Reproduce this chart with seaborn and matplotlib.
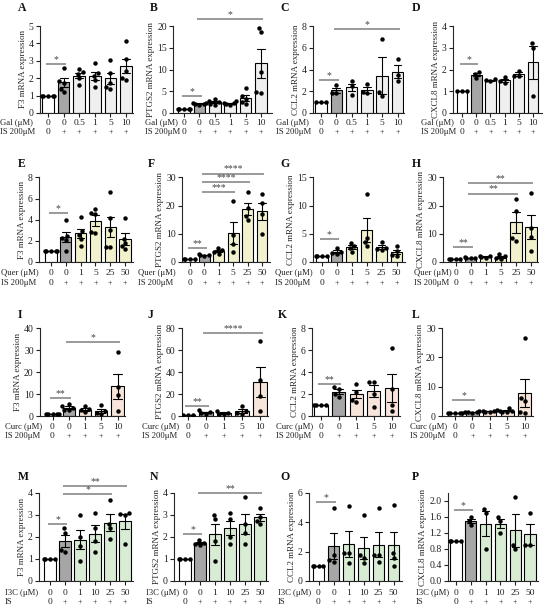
import numpy as np
import pandas as pd
import seaborn as sns
import matplotlib
matplotlib.use("Agg")
import matplotlib.pyplot as plt
from matplotlib.transforms import blended_transform_factory, ScaledTranslation

# ---------------- data ----------------
gal_doses = ["0", "0", "0.5", "1", "5", "10"]
quer_doses = ["0", "0", "1", "5", "25", "50"]
curc_doses = ["0", "0", "1", "5", "10"]
i3c_doses = ["0", "0", "1", "10", "25", "50"]

# Galangin
A_f3 = [[1, 1, 1, 1, 1], [2.6, 1.85, 1.75, 1.4, 1.2], [2.55, 2.35, 2.25, 2.0, 1.6],
        [2.9, 2.3, 2.15, 1.9, 1.5], [3.05, 2.3, 1.75, 1.5, 1.4], [4.15, 3.1, 2.4, 2.0, 1.9]]
B_ptgs2 = [[1, 1, 1, 1, 1], [2.4, 2.2, 2.1, 2.0, 1.9], [3.3, 2.8, 2.5, 2.1, 1.9],
           [2.7, 2.4, 2.2, 2.0, 1.8], [5.7, 3.8, 3.3, 2.5, 2.0], [19.5, 18.6, 9.5, 4.8, 4.6]]
C_ccl2 = [[1, 1, 1], [2.6, 1.85, 1.8], [2.9, 2.45, 1.7], [2.65, 1.95, 1.8],
          [6.8, 1.9, 1.6], [5.0, 3.5, 2.9]]
D_cxcl8 = [[1, 1, 1], [1.9, 1.8, 1.6], [1.55, 1.5, 1.48], [1.65, 1.45, 1.4],
           [1.95, 1.72, 1.7], [3.2, 3.0, 0.8]]
# Quercetin
E_f3 = [[1, 1, 1, 1, 1], [4.0, 2.5, 2.3, 2.1, 1.0], [4.3, 2.9, 2.6, 2.2, 1.5],
        [5.0, 4.6, 4.5, 2.8, 2.7], [6.6, 4.2, 3.0, 1.4, 1.4], [4.2, 2.2, 1.8, 1.5, 1.2]]
F_ptgs2 = [[1, 1, 1, 1], [2.8, 2.6, 2.4, 2.2], [5.0, 4.2, 3.6, 3.0],
           [21.5, 9.5, 6.5, 3.5], [25, 19, 16.5, 15], [24, 21, 17, 10]]
G_ccl2 = [[1, 1, 1, 1], [2.5, 1.8, 1.6, 1.4], [3.4, 2.8, 2.5, 1.8],
          [12, 4.2, 3.5, 2.8], [3.6, 2.5, 2.3, 2.2], [2.8, 1.9, 1.3, 1.1]]
H_cxcl8 = [[1, 1, 1, 1], [1.6, 1.5, 1.4, 1.3], [2.2, 2.0, 1.6, 1.4],
           [2.7, 2.0, 1.5, 1.2], [22.2, 18, 8.5, 7.5], [24.5, 12, 9, 4]]
# Curcumin
I_f3 = [[1, 1, 1, 1, 1], [5.6, 4.4, 3.8, 2.9, 2.6], [4.4, 3.0, 2.6, 1.8],
        [4.9, 2.2, 1.5, 1.0], [29, 13, 9.5, 2.5]]
J_ptgs2 = [[1, 1, 1, 1], [5.2, 3.5, 2.5, 2.0], [4.5, 3.0, 2.0, 1.5],
           [9.5, 4.5, 3.0, 2.0], [68, 33, 18, 5]]
K_ccl2 = [[1, 1, 1, 1], [2.6, 2.5, 2.0, 1.7], [2.9, 2.2, 1.5, 1.3],
          [3.1, 3.1, 2.0, 0.8], [6.2, 2.5, 1.0, 0.5]]
L_cxcl8 = [[1, 1, 1, 1, 1], [1.6, 1.4, 1.3, 1.2, 1.1], [2.2, 1.8, 1.6, 1.5, 1.4],
           [2.8, 1.8, 1.6, 1.5, 1.4], [26.5, 6, 5, 1.2, 1.0]]
# Indole-3-carbinol
M_f3 = [[1, 1, 1, 1], [2.4, 2.2, 1.4, 1.3], [3.0, 2.0, 1.6, 0.9],
        [3.1, 2.4, 1.8, 1.3], [3.7, 2.6, 2.4, 1.9], [3.1, 3.05, 3.0, 1.7]]
N_ptgs2 = [[1, 1, 1, 1], [1.85, 1.75, 1.7, 1.65], [3.0, 2.8, 1.8, 0.9],
           [3.1, 2.8, 2.0, 1.7], [3.8, 2.6, 2.2, 1.7], [3.3, 2.9, 2.75, 2.6]]
O_ccl2 = [[1, 1, 1, 1], [5.0, 1.8, 1.4, 1.3], [5.1, 1.9, 1.9, 1.2],
          [4.5, 1.8, 1.6, 1.2], [5.0, 1.8, 1.8, 1.3], [5.2, 1.9, 1.6, 1.0]]
P_cxcl8 = [[1, 1, 1, 1], [1.6, 1.5, 1.4], [1.8, 1.7, 0.8],
           [1.6, 1.5, 1.2], [2.1, 0.9, 0.8], [1.7, 0.9, 0.9]]

# significance: (group1, group2, y, label)
sig = {
    "A": [(0, 1, 2.8, "*")],
    "B": [(0, 1, 3.8, "*"), (1, 5, 21.5, "*")],
    "C": [(0, 1, 3.05, "*"), (1, 5, 7.75, "*")],
    "D": [(0, 1, 2.23, "*")],
    "E": [(0, 1, 4.6, "*")],
    "F": [(0, 1, 5.1, "**"), (1, 3, 24.75, "***"), (1, 4, 28.3, "****"), (1, 5, 31.4, "****")],
    "G": [(0, 1, 4.0, "*")],
    "H": [(0, 1, 5.2, "**"), (1, 4, 24.3, "**"), (1, 5, 28.1, "**")],
    "I": [(0, 1, 8.3, "**"), (1, 4, 33.8, "*")],
    "J": [(0, 1, 9.1, "**"), (1, 4, 75.2, "****")],
    "K": [(0, 1, 2.9, "**")],
    "L": [(0, 1, 5.4, "*")],
    "M": [(0, 1, 2.6, "*"), (1, 4, 3.94, "*"), (1, 5, 4.3, "**")],
    "N": [(0, 1, 2.14, "*"), (1, 5, 4.0, "**")],
    "O": [(0, 1, 5.36, "*")],
    "P": [(0, 1, 1.77, "*")],
}

GRAY = "#a6a6a6"
GAL_C = "#efefef"
QUER_C = "#f8f6c8"
CURC_C = "#fce4d6"
I3C_C = "#d5f0d0"

panels = [
    # key, row, values, doses, treatment label, IS label, ylabel, ylim, yticks, color
    ("A", 0, A_f3, gal_doses, "Gal (μM)", "IS 200μM", "F3 mRNA expression", (0, 5), [0, 1, 2, 3, 4, 5], GAL_C),
    ("B", 0, B_ptgs2, gal_doses, "Gal (μM)", "IS 200μM", "PTGS2 mRNA expression", (0, 20), [0, 5, 10, 15, 20], GAL_C),
    ("C", 0, C_ccl2, gal_doses, "Gal (μM)", "IS 200μM", "CCL2 mRNA expression", (0, 8), [0, 2, 4, 6, 8], GAL_C),
    ("D", 0, D_cxcl8, gal_doses, "Gal (μM)", "IS 200μM", "CXCL8 mRNA expression", (0, 4), [0, 1, 2, 3, 4], GAL_C),
    ("E", 1, E_f3, quer_doses, "Quer (μM)", "IS 200μM", "F3 mRNA expression", (0, 8), [0, 2, 4, 6, 8], QUER_C),
    ("F", 1, F_ptgs2, quer_doses, "Quer (μM)", "IS 200μM", "PTGS2 mRNA expression", (0, 30), [0, 10, 20, 30], QUER_C),
    ("G", 1, G_ccl2, quer_doses, "Quer (μM)", "IS 200μM", "CCL2 mRNA expression", (0, 15), [0, 5, 10, 15], QUER_C),
    ("H", 1, H_cxcl8, quer_doses, "Quer (μM)", "IS 200μM", "CXCL8 mRNA expression", (0, 30), [0, 10, 20, 30], QUER_C),
    ("I", 2, I_f3, curc_doses, "Curc (μM)", "IS 200μM", "F3 mRNA expression", (0, 40), [0, 10, 20, 30, 40], CURC_C),
    ("J", 2, J_ptgs2, curc_doses, "Curc (μM)", "IS 200μM", "PTGS2 mRNA expression", (0, 80), [0, 20, 40, 60, 80], CURC_C),
    ("K", 2, K_ccl2, curc_doses, "Curc (μM)", "IS 200μM", "CCL2 mRNA expression", (0, 8), [0, 2, 4, 6, 8], CURC_C),
    ("L", 2, L_cxcl8, curc_doses, "Curc (μM)", "IS 200μM", "CXCL8 mRNA expression", (0, 30), [0, 10, 20, 30], CURC_C),
    ("M", 3, M_f3, i3c_doses, "I3C (μM)", "IS", "F3 mRNA expression", (0, 4), [0, 1, 2, 3, 4], I3C_C),
    ("N", 3, N_ptgs2, i3c_doses, "I3C (μM)", "IS", "PTGS2 mRNA expression", (0, 4), [0, 1, 2, 3, 4], I3C_C),
    ("O", 3, O_ccl2, i3c_doses, "I3C (μM)", "IS", "CCL2 mRNA expression", (0, 6), [0, 2, 4, 6], I3C_C),
    ("P", 3, P_cxcl8, i3c_doses, "I3C (μM)", "IS", "CXCL8 mRNA expression", (0, 2.2), [0.0, 0.4, 0.8, 1.2, 1.6, 2.0], I3C_C),
]

# ---------------- layout (pixels) ----------------
W, H = 550, 609
rows_px = [(26, 113), (177.5, 262), (328, 416), (493, 581)]
label_off = [(10, 19), (11, 21), (11, 20.5), (12, 21.5)]
letter_y = [8, 164, 315, 477]
letter_x = {"A": 18, "B": 150, "C": 280, "D": 412, "E": 18, "F": 148, "G": 280, "H": 412,
            "I": 18, "J": 148, "K": 278, "L": 412, "M": 18, "N": 150, "O": 280, "P": 412}
head_x = {"A": 0, "B": 145, "C": 276, "D": 421, "E": 1, "F": 138, "G": 275, "H": 414,
          "I": 5, "J": 142, "K": 276, "L": 410, "M": 5, "N": 146, "O": 278, "P": 416}
geom = {
    "A": (40, 133, 48, 126), "B": (173, 272, 184, 261), "C": (313, 404, 321, 397.5), "D": (453, 542, 462, 533),
    "E": (39, 133, 51, 125), "F": (182, 270, 190, 262), "G": (313, 405, 322, 396.5), "H": (443, 538, 455.5, 531),
    "I": (40, 125, 52.5, 117.5), "J": (182, 268, 188, 260), "K": (312, 400, 321, 391.5), "L": (442, 533, 455, 524.5),
    "M": (39, 133, 50, 125), "N": (174, 268, 185, 260), "O": (309, 402, 318.5, 393.5), "P": (448, 538, 456, 530),
}

sns.set_theme(style="ticks")
plt.rcParams["font.family"] = ["Liberation Serif", "DejaVu Serif"]
plt.rcParams["axes.linewidth"] = 0.8

fig = plt.figure(figsize=(W / 100, H / 100), dpi=100)
TXT = "#222222"

for key, row, vals, doses, treat, islab, ylab, ylim, yticks, col in panels:
    L, R, c0, c1 = geom[key]
    top, bot = rows_px[row]
    ax = fig.add_axes([L / W, 1 - bot / H, (R - L) / W, (bot - top) / H])
    n = len(vals)
    keys = [f"g{i}" for i in range(n)]
    df = pd.DataFrame({"g": [keys[i] for i, v in enumerate(vals) for _ in v],
                       "v": [x for v in vals for x in v]})
    pal = {keys[0]: "white", keys[1]: GRAY}
    for k in keys[2:]:
        pal[k] = col
    sns.barplot(data=df, x="g", y="v", hue="g", order=keys, hue_order=keys, palette=pal,
                legend=False, errorbar="se", capsize=0.5, width=0.75, edgecolor="black",
                linewidth=0.8, err_kws={"color": "black", "linewidth": 0.8}, ax=ax)
    sns.swarmplot(data=df, x="g", y="v", order=keys, color="black", size=3.2, ax=ax)

    s = (c1 - c0) / (n - 1)
    ax.set_xlim(-(c0 - L) / s, (n - 1) + (R - c1) / s)
    ax.set_ylim(*ylim)
    ax.set_yticks(yticks)
    if key == "P":
        ax.set_yticklabels([f"{t:.1f}" for t in yticks])
    ax.set_xticks(range(n))
    ax.set_xticklabels([])
    ax.set_xlabel("")
    ax.set_ylabel(ylab, fontsize=6.5, labelpad=1.5)
    ax.tick_params(axis="both", length=3, width=0.8, labelsize=7, pad=1.5, colors=TXT)
    sns.despine(ax=ax)
    for sp in ("left", "bottom"):
        ax.spines[sp].set_linewidth(0.8)

    # dose / IS rows
    o1, o2 = label_off[row]
    tr1 = ax.get_xaxis_transform() + ScaledTranslation(0, -o1 / 100, fig.dpi_scale_trans)
    tr2 = ax.get_xaxis_transform() + ScaledTranslation(0, -o2 / 100, fig.dpi_scale_trans)
    for i in range(n):
        ax.text(i, 0, doses[i], transform=tr1, ha="center", va="center", fontsize=6.8, color=TXT)
        ax.text(i, 0, "0" if i == 0 else "+", transform=tr2, ha="center", va="center",
                fontsize=6.8 if i == 0 else 5.5, color=TXT)
    bt = blended_transform_factory(fig.transFigure, ax.transAxes)
    hx = head_x[key] / W
    ax.text(hx, 0, treat, transform=bt + ScaledTranslation(0, -o1 / 100, fig.dpi_scale_trans),
            ha="left", va="center", fontsize=6.2, color=TXT)
    ax.text(hx, 0, islab, transform=bt + ScaledTranslation(0, -o2 / 100, fig.dpi_scale_trans),
            ha="left", va="center", fontsize=6.2, color=TXT)

    # significance bars
    for g1, g2, y, txt in sig[key]:
        x1, x2 = g1 - 0.15, g2 + 0.15
        ax.plot([x1, x2], [y, y], color="#7f7f7f", lw=1.1, clip_on=False, solid_capstyle="butt")
        ax.text((x1 + x2) / 2, y, txt, ha="center", va="bottom", fontsize=7, color="#444444",
                clip_on=False)

    fig.text(letter_x[key] / W, 1 - letter_y[row] / H, key, fontsize=8.5, fontweight="bold",
             ha="left", va="center", color="#111111")

fig.savefig("out.png", dpi=100)
